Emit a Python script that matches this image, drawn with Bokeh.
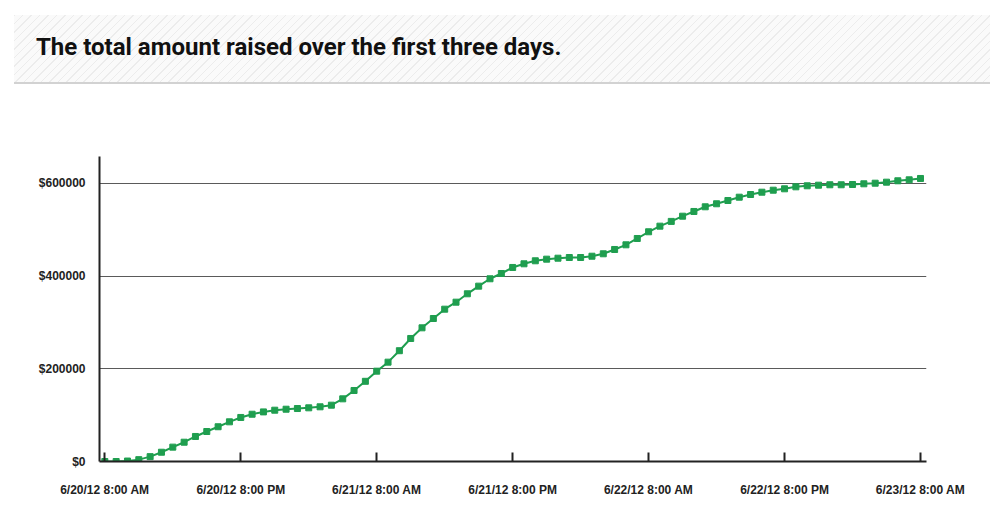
from bokeh.plotting import figure
from bokeh.layouts import column
from bokeh.models import FixedTicker, Range1d, Div
from bokeh.embed import file_html
from bokeh.resources import INLINE

# ---------------- data ----------------
title_text = "The total amount raised over the first three days."
hours = list(range(73))  # hourly readings from 6/20/12 8:00 AM
amount_raised = [
    0, 0, 1000, 4000, 10500, 20000, 31000, 41600, 54000, 64700,
    75000, 85600, 95000, 102000, 107000, 110700, 112800, 114300, 115800, 118000,
    121500, 135200, 153200, 173000, 194900, 214300, 239000, 265400, 288400, 308500,
    328600, 343700, 361800, 378300, 394200, 405600, 418600, 426500, 433000, 436500,
    438600, 440100, 440100, 442900, 448100, 457400, 467500, 481100, 495600, 507700,
    518000, 529200, 539400, 549500, 556000, 563100, 570200, 576000, 581000, 585300,
    588300, 592600, 594800, 596100, 597000, 597000, 597600, 599100, 600400, 602600,
    605600, 607700, 610600,
]
x_tick_hours = [0, 12, 24, 36, 48, 60, 72]
x_tick_labels = ["6/20/12 8:00 AM", "6/20/12 8:00 PM", "6/21/12 8:00 AM",
                 "6/21/12 8:00 PM", "6/22/12 8:00 AM", "6/22/12 8:00 PM",
                 "6/23/12 8:00 AM"]
y_ticks = [0, 200000, 400000, 600000]
y_tick_labels = ["$0", "$200000", "$400000", "$600000"]

W = 998

# ---------------- header (hatched band with title) ----------------
head = Div(
    text=title_text,
    width=976, height=69,
    margin=(15, 8, 16, 14),
    styles={
        "box-sizing": "border-box",
        "background": "repeating-linear-gradient(135deg, #ececec 0px, #ececec 1px, #fafafa 1px, #fafafa 6px)",
        "border-bottom": "2px solid #d2d2d2",
        "font-family": "Roboto",
        "font-weight": "bold",
        "font-size": "24px",
        "color": "#111111",
        "padding-left": "22px",
        "line-height": "64px",
        "white-space": "nowrap",
    },
)

# ---------------- chart ----------------
p = figure(width=W, height=430, toolbar_location=None, output_backend="svg",
           x_range=Range1d(-0.47, 72.53), y_range=Range1d(0, 658000),
           min_border_left=99, min_border_right=72, min_border_top=56,
           min_border_bottom=69)
p.outline_line_color = None
p.xgrid.visible = False
p.ygrid.ticker = FixedTicker(ticks=y_ticks[1:])
p.ygrid.grid_line_color = "#5a5a5a"
p.ygrid.grid_line_width = 1

p.line(hours, amount_raised, line_color="#1f9e4f", line_width=2)
p.scatter(hours, amount_raised, marker="square", size=6,
          fill_color="#1f9e4f", line_color="#1f9e4f")

p.xaxis.ticker = FixedTicker(ticks=x_tick_hours)
p.xaxis.major_label_overrides = {h: l for h, l in zip(x_tick_hours, x_tick_labels)}
p.xaxis.major_tick_in = 9
p.xaxis.major_tick_out = 0
p.xaxis.minor_tick_line_color = None
p.xaxis.major_tick_line_width = 2
p.xaxis.major_tick_line_color = "#222222"
p.xaxis.axis_line_width = 2
p.xaxis.axis_line_color = "#222222"
p.xaxis.major_label_standoff = 21

p.yaxis.ticker = FixedTicker(ticks=y_ticks)
p.yaxis.major_label_overrides = {v: l for v, l in zip(y_ticks, y_tick_labels)}
p.yaxis.major_tick_in = 0
p.yaxis.major_tick_out = 0
p.yaxis.minor_tick_line_color = None
p.yaxis.axis_line_width = 2
p.yaxis.axis_line_color = "#222222"
p.yaxis.major_label_standoff = 14

for ax in (p.xaxis, p.yaxis):
    ax.major_label_text_font = "Liberation Sans"
    ax.major_label_text_font_style = "bold"
    ax.major_label_text_font_size = "12px"
    ax.major_label_text_color = "#222222"

layout = column(head, p, spacing=0)
open("out.html", "w").write(file_html(layout, INLINE))
